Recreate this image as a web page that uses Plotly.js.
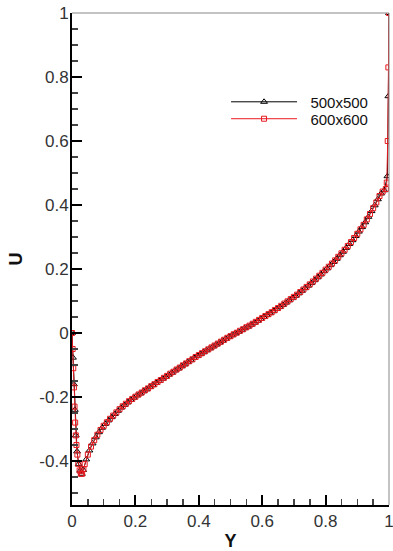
<!DOCTYPE html>
<html>
<head>
<meta charset="utf-8">
<script src="https://cdn.plot.ly/plotly-3.0.1.min.js"></script>
<style>html,body{margin:0;padding:0;background:#fff;}#chart{width:393px;height:551px;}</style>
</head>
<body>
<div id="chart"></div>
<script>
// Series 500x500 (black, triangles)
const yBlack = [0, 0.003, 0.006, 0.009, 0.012, 0.016, 0.021, 0.026, 0.031,
  0.035, 0.045, 0.055, 0.065, 0.075, 0.085, 0.095, 0.105, 0.115, 0.125, 0.135, 0.145,
  0.155, 0.165, 0.175, 0.185, 0.195, 0.205, 0.215, 0.225, 0.235, 0.245, 0.255, 0.265,
  0.275, 0.285, 0.295, 0.305, 0.315, 0.325, 0.335, 0.345, 0.355, 0.365, 0.375, 0.385,
  0.395, 0.405, 0.415, 0.425, 0.435, 0.445, 0.455, 0.465, 0.475, 0.485, 0.495, 0.505,
  0.515, 0.525, 0.535, 0.545, 0.555, 0.565, 0.575, 0.585, 0.595, 0.605, 0.615, 0.625,
  0.635, 0.645, 0.655, 0.665, 0.675, 0.685, 0.695, 0.705, 0.715, 0.725, 0.735, 0.745,
  0.755, 0.765, 0.775, 0.785, 0.795, 0.805, 0.815, 0.825, 0.835, 0.845, 0.855, 0.865,
  0.875, 0.885, 0.895, 0.905, 0.915, 0.925, 0.935, 0.945, 0.955, 0.965, 0.975, 0.985,
  0.995, 0.998, 1.0];
const uBlack = [0, -0.077, -0.16, -0.24, -0.32, -0.37, -0.41, -0.43, -0.44,
  -0.428, -0.395, -0.367, -0.345, -0.326, -0.310, -0.296, -0.284, -0.273, -0.263, -0.253, -0.243,
  -0.233, -0.225, -0.217, -0.209, -0.202, -0.195, -0.189, -0.182, -0.176, -0.169, -0.163, -0.156,
  -0.150, -0.143, -0.137, -0.130, -0.124, -0.117, -0.111, -0.104, -0.098, -0.091, -0.085, -0.078,
  -0.072, -0.066, -0.060, -0.054, -0.048, -0.042, -0.036, -0.030, -0.024, -0.018, -0.012, -0.007,
  -0.001, 0.004, 0.009, 0.015, 0.020, 0.026, 0.032, 0.038, 0.044, 0.050, 0.056, 0.062,
  0.068, 0.075, 0.081, 0.088, 0.095, 0.102, 0.109, 0.116, 0.124, 0.132, 0.140, 0.148,
  0.156, 0.165, 0.174, 0.183, 0.193, 0.202, 0.212, 0.222, 0.232, 0.243, 0.254, 0.266,
  0.278, 0.290, 0.303, 0.317, 0.331, 0.346, 0.363, 0.381, 0.399, 0.418, 0.436, 0.446,
  0.49, 0.74, 1.0];

// Series 600x600 (red, squares)
const yRed = [0, 0.002, 0.004, 0.006, 0.008, 0.010, 0.012, 0.014, 0.017, 0.020, 0.024,
  0.028, 0.032, 0.036,
  0.04, 0.05, 0.06, 0.07, 0.08, 0.09, 0.10, 0.11, 0.12, 0.13, 0.14, 0.15, 0.16, 0.17,
  0.18, 0.19, 0.20, 0.21, 0.22, 0.23, 0.24, 0.25, 0.26, 0.27, 0.28, 0.29, 0.30, 0.31,
  0.32, 0.33, 0.34, 0.35, 0.36, 0.37, 0.38, 0.39, 0.40, 0.41, 0.42, 0.43, 0.44, 0.45,
  0.46, 0.47, 0.48, 0.49, 0.50, 0.51, 0.52, 0.53, 0.54, 0.55, 0.56, 0.57, 0.58, 0.59,
  0.60, 0.61, 0.62, 0.63, 0.64, 0.65, 0.66, 0.67, 0.68, 0.69, 0.70, 0.71, 0.72, 0.73,
  0.74, 0.75, 0.76, 0.77, 0.78, 0.79, 0.80, 0.81, 0.82, 0.83, 0.84, 0.85, 0.86, 0.87,
  0.88, 0.89, 0.90, 0.91, 0.92, 0.93, 0.94, 0.95, 0.96, 0.97, 0.98, 0.99,
  0.993, 0.996, 0.998, 1.0];
const uRed = [0, -0.05, -0.11, -0.17, -0.23, -0.28, -0.32, -0.35, -0.38, -0.41, -0.43,
  -0.44, -0.44, -0.425,
  -0.410, -0.380, -0.355, -0.335, -0.318, -0.303, -0.290, -0.279, -0.268, -0.258, -0.248, -0.238, -0.229, -0.221,
  -0.213, -0.206, -0.199, -0.192, -0.186, -0.179, -0.173, -0.166, -0.160, -0.153, -0.147, -0.140, -0.134, -0.127,
  -0.121, -0.114, -0.108, -0.101, -0.095, -0.088, -0.082, -0.075, -0.069, -0.063, -0.057, -0.051, -0.045, -0.039,
  -0.033, -0.027, -0.021, -0.015, -0.010, -0.004, 0.001, 0.007, 0.012, 0.018, 0.023, 0.029, 0.035, 0.041,
  0.047, 0.053, 0.059, 0.065, 0.072, 0.078, 0.085, 0.092, 0.099, 0.106, 0.113, 0.120, 0.128, 0.136,
  0.144, 0.152, 0.161, 0.170, 0.179, 0.188, 0.198, 0.207, 0.217, 0.227, 0.238, 0.249, 0.260, 0.272,
  0.284, 0.297, 0.310, 0.324, 0.338, 0.355, 0.372, 0.390, 0.408, 0.428, 0.442, 0.450,
  0.47, 0.60, 0.83, 1.0];

const xTickVals = [0, 0.2, 0.4, 0.6, 0.8, 1];
const xTickText = ['0', '0.2', '0.4', '0.6', '0.8', '1'];
const yTickVals = [-0.4, -0.2, 0, 0.2, 0.4, 0.6, 0.8, 1];
const yTickText = ['-0.4', '-0.2', '0', '0.2', '0.4', '0.6', '0.8', '1'];
const seriesNames = ['500x500', '600x600'];

const FONT = 'Liberation Sans, Arial, sans-serif';
const NB = '\u00a0\u00a0';

const traces = [
  {
    x: yBlack, y: uBlack, name: NB + seriesNames[0], type: 'scatter', mode: 'lines+markers',
    legend: 'legend',
    line: {color: '#000000', width: 1},
    marker: {symbol: 'triangle-up-open', size: 6, color: '#000000', line: {width: 1}}
  },
  {
    x: yRed, y: uRed, name: NB + seriesNames[1], type: 'scatter', mode: 'lines+markers',
    legend: 'legend2',
    line: {color: '#e8191f', width: 1},
    marker: {symbol: 'square-open', size: 5, color: '#e8191f', line: {width: 1}}
  }
];

const axisCommon = {
  showgrid: false, zeroline: false, showline: true, linecolor: '#000', linewidth: 2,
  ticks: 'inside', ticklen: 10, tickwidth: 2, tickcolor: '#000',
  tickfont: {family: FONT, size: 17, color: '#333'},
  ticklabeloverflow: 'allow',
  minor: {ticks: 'inside', ticklen: 6, tickwidth: 1.5, tickcolor: '#444', dtick: 0.05},
  mirror: false
};

const legendCommon = {
  xanchor: 'left', yanchor: 'middle',
  bgcolor: 'rgba(0,0,0,0)', borderwidth: 0,
  font: {family: FONT, size: 15, color: '#111'},
  itemwidth: 66
};

const layout = {
  width: 393, height: 551,
  margin: {l: 72, r: 4, t: 13, b: 46, pad: 0},
  paper_bgcolor: '#fff', plot_bgcolor: '#fff',
  showlegend: true,
  legend: Object.assign({}, legendCommon, {x: 0.486, y: 0.819}),
  legend2: Object.assign({}, legendCommon, {x: 0.486, y: 0.7846}),
  xaxis: Object.assign({}, axisCommon, {
    range: [0, 1], tickmode: 'array', tickvals: xTickVals, ticktext: xTickText,
    title: {text: '<b>Y</b>', font: {family: FONT, size: 18, color: '#111'}, standoff: 8}
  }),
  yaxis: Object.assign({}, axisCommon, {
    range: [-0.5375, 1], tickmode: 'array', tickvals: yTickVals, ticktext: yTickText,
    ticklabelstandoff: -2,
    title: {text: '<b>U</b>', font: {family: FONT, size: 18, color: '#111'}, standoff: 12}
  }),
  shapes: [
    {type: 'line', xref: 'paper', yref: 'paper', x0: 0, x1: 1, y0: 1, y1: 1, line: {color: '#888', width: 1}},
    {type: 'line', xref: 'paper', yref: 'paper', x0: 1, x1: 1, y0: 0, y1: 1, line: {color: '#888', width: 1}}
  ]
};

Plotly.newPlot('chart', traces, layout, {displayModeBar: false, staticPlot: true});
</script>
</body>
</html>
